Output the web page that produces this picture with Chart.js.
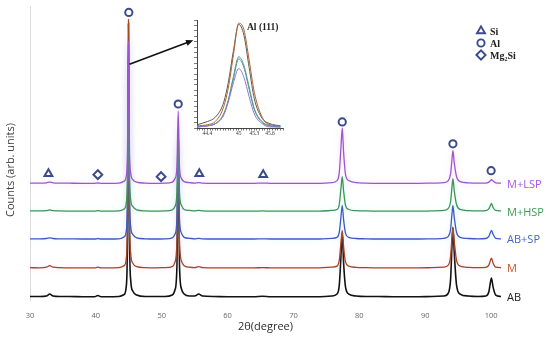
<!DOCTYPE html>
<html>
<head>
<meta charset="utf-8">
<script src="https://cdn.jsdelivr.net/npm/chart.js@4.4.1/dist/chart.umd.min.js"></script>
<style>
  html, body { margin: 0; padding: 0; background: #fff; }
  #wrap { position: relative; width: 550px; height: 341px; }
  #main { position: absolute; left: 0; top: 0; width: 550px; height: 341px; }
  #inset { position: absolute; left: 183px; top: 14px; width: 104px; height: 124px; }
</style>
</head>
<body>
<div id="wrap">
  <div id="main"><canvas id="xrdChart"></canvas></div>
  <div id="inset"><canvas id="insetChart"></canvas></div>
</div>
<script>
'use strict';

// 2θ positions (degree)
var twoTheta = [30, 31.5, 32.5, 33.0, 33.5, 34.5, 36, 38, 39.8, 40.3,
  40.8, 42, 43.5, 44.3, 44.6, 44.8, 44.95, 45.1, 45.3, 45.6,
  46.2, 47.5, 49, 50.5, 51.6, 52.0, 52.3, 52.5, 52.7, 53.0,
  53.4, 54.2, 55.0, 55.6, 56.2, 58, 60, 62, 64, 65.3,
  66.5, 68, 70, 72, 74, 75.8, 76.6, 76.95, 77.2, 77.4,
  77.6, 77.9, 78.4, 79.5, 81, 83, 85, 87, 89, 91,
  92.8, 93.5, 93.85, 94.05, 94.2, 94.4, 94.75, 95.3, 96.5, 98,
  99.2, 99.65, 99.9, 100.05, 100.3, 100.7, 101.5];

// intensities above each pattern's own baseline (arb. units)
var countsAB = [0.5, 0.5, 1, 3, 1, 0.5, 0.5, 0.3, 0.3, 1.5,
  0.3, 0.3, 0.5, 2.5, 10, 60, 275, 65, 16, 6,
  2, 0.5, 0.5, 0.5, 2, 7, 30, 147, 30, 8,
  3, 1, 1, 3, 1, 0.5, 0.3, 0.3, 0.3, 0.8,
  0.3, 0.2, 0.2, 0.3, 0.3, 1, 3, 12, 40, 65,
  35, 10, 3, 1, 0.5, 0.5, 0.3, 0.3, 0.3, 0.5,
  1, 4, 18, 50, 70, 45, 12, 3, 1, 0.5,
  1, 5, 15, 19, 10, 2, 0.5];
var countsM = [0.5, 0.3, 1, 2.5, 1, 0.5, 0.3, 0.3, 0.3, 1,
  0.3, 0.3, 0.5, 2.5, 9, 55, 250, 60, 14, 5,
  1.5, 0.5, 0.3, 0.5, 1.5, 6, 26, 128, 26, 7,
  2.5, 1, 0.5, 1.5, 0.5, 0.3, 0.3, 0.3, 0.3, 0.5,
  0.3, 0.3, 0.3, 0.3, 0.3, 1, 2, 8, 25, 38,
  22, 6, 2, 0.8, 0.5, 0.3, 0.3, 0.3, 0.3, 0.5,
  1, 3, 12, 30, 41, 27, 8, 2, 0.8, 0.5,
  0.8, 3, 8, 10, 5, 1, 0.5];
var countsABSP = [0.5, 0.5, 0.8, 1.5, 0.8, 0.5, 0.4, 0.3, 0.3, 0.8,
  0.3, 0.3, 0.5, 2.5, 8, 45, 195, 48, 12, 5,
  1.5, 0.5, 0.3, 0.5, 1.5, 5, 20, 95, 20, 6,
  2, 1, 0.5, 1, 0.5, 0.3, 0.3, 0.3, 0.3, 0.5,
  0.3, 0.3, 0.3, 0.3, 0.3, 1, 2, 7, 22, 34,
  20, 6, 2, 0.8, 0.5, 0.3, 0.3, 0.3, 0.3, 0.5,
  1, 3, 10, 25, 34, 22, 7, 2, 0.8, 0.5,
  0.8, 3, 7, 9, 5, 1, 0.5];
var countsMHSP = [0.5, 0.5, 0.8, 1.5, 0.8, 0.5, 0.4, 0.3, 0.3, 0.8,
  0.3, 0.3, 0.5, 2.5, 8, 40, 168, 42, 11, 5,
  1.5, 0.5, 0.3, 0.5, 1.5, 5, 18, 82, 18, 6,
  2, 1, 0.5, 1, 0.5, 0.3, 0.3, 0.3, 0.3, 0.5,
  0.3, 0.3, 0.3, 0.3, 0.3, 1, 2, 7, 23, 35,
  21, 6, 2, 0.8, 0.5, 0.3, 0.3, 0.3, 0.3, 0.5,
  1, 3, 10, 24, 33, 21, 7, 2, 0.8, 0.5,
  0.8, 2.5, 6, 8, 4, 1, 0.5];
var countsMLSP = [0.5, 0.5, 0.8, 1.5, 0.8, 0.5, 0.4, 0.3, 0.3, 0.6,
  0.3, 0.3, 0.5, 2.5, 7, 35, 143, 36, 10, 4,
  1.5, 0.5, 0.3, 0.5, 1.5, 5, 16, 73, 16, 5,
  2, 1, 0.5, 1, 0.5, 0.3, 0.3, 0.3, 0.3, 0.5,
  0.3, 0.3, 0.3, 0.3, 0.3, 1, 3, 11, 36, 56,
  32, 9, 3, 1, 0.5, 0.3, 0.3, 0.3, 0.3, 0.5,
  1, 3, 10, 24, 33, 21, 7, 2, 0.8, 0.5,
  0.5, 1.5, 3, 4, 2.5, 0.8, 0.5];

var seriesNames = ['AB', 'M', 'AB+SP', 'M+HSP', 'M+LSP'];
var seriesCounts = [countsAB, countsM, countsABSP, countsMHSP, countsMLSP];
var seriesOffsets = [3, 32, 61, 89, 117];

// phase markers: 2θ and height
var siPeaks = [32.8, 55.7, 65.4];
var siMarkY = [127, 127, 126];
var alPeaks = [45.0, 52.5, 77.4, 94.2, 100.0];
var alMarkY = [289, 197, 179, 157, 130];
var mg2siPeaks = [40.3, 49.9];
var mg2siMarkY = [126, 124];

var xTickLabels = [30, 40, 50, 60, 70, 80, 90, 100];

// inset: Al (111) peak
var insetTheta = [44.2, 44.4, 44.55, 44.7, 44.8, 44.9, 45.0, 45.1, 45.2, 45.3, 45.45, 45.6, 45.8];
var insetAB = [3, 6, 10, 22, 42, 72, 96, 86, 56, 27, 9, 4, 2];
var insetM = [2, 3, 6, 18, 37, 68, 97, 91, 63, 33, 10, 3, 2];
var insetABSP = [1, 2, 4, 11, 25, 46, 64, 56, 36, 17, 5, 2, 1];
var insetMHSP = [1, 2, 4, 12, 26, 48, 66, 58, 38, 18, 6, 2, 1];
var insetMLSP = [1, 2, 4, 11, 24, 42, 55, 47, 29, 13, 4, 1, 1];
var insetTickLabels = [44.4, 45, 45.3, 45.6];

var lineColors = ['#111111', '#a2461f', '#3f58c4', '#3e9352', '#9c55d0'];
var labelColors = ['#222222', '#c4562a', '#4466cc', '#3c9a55', '#a855e0'];
var glowColors = [null, 'rgba(255,150,225,0.4)', 'rgba(130,240,240,0.4)', 'rgba(130,240,240,0.4)', 'rgba(255,150,225,0.4)'];
var insetColors = ['#5a5a5a', '#b0602e', '#4a86b8', '#52a374', '#9474d4'];
var markerColor = '#3b4a8c';

function toPoints(xs, ys, offset) {
  return xs.map(function(x, i) {
    return { x: x, y: ys[i] + (offset || 0) };
  });
}

function markerData(xs, ys) {
  return xs.map(function(x, i) { return { x: x, y: ys[i] }; });
}

var glowPlugin = {
  id: 'glow',
  beforeDatasetDraw: function(chart, args) {
    var ds = chart.data.datasets[args.index];
    chart.ctx.save();
    if (ds.glow) {
      chart.ctx.shadowColor = ds.glow;
      chart.ctx.shadowBlur = 6;
    }
  },
  afterDatasetDraw: function(chart) {
    chart.ctx.restore();
  }
};

var annotationsPlugin = {
  id: 'xrdAnnotations',
  afterDraw: function(chart) {
    var ctx = chart.ctx;
    var xs = chart.scales.x;
    var ys = chart.scales.y;

    ctx.save();
    // y axis title
    ctx.save();
    ctx.translate(11, 170);
    ctx.rotate(-Math.PI / 2);
    ctx.font = '11px "Open Sans", sans-serif';
    ctx.fillStyle = '#404040';
    ctx.textAlign = 'center';
    ctx.textBaseline = 'middle';
    ctx.fillText('Counts (arb. units)', 0, 0);
    ctx.restore();

    // series names at the right end
    ctx.font = '11px "Open Sans", sans-serif';
    ctx.textBaseline = 'middle';
    ctx.textAlign = 'left';
    seriesNames.forEach(function(name, i) {
      ctx.fillStyle = labelColors[i];
      ctx.fillText(name, xs.getPixelForValue(101.5) + 6, ys.getPixelForValue(seriesOffsets[i]) + 1);
    });

    // arrow from Al(111) peak to inset
    var x0 = xs.getPixelForValue(45.1), y0 = ys.getPixelForValue(237);
    var x1 = xs.getPixelForValue(54.8), y1 = ys.getPixelForValue(261);
    var ang = Math.atan2(y1 - y0, x1 - x0);
    ctx.strokeStyle = '#111';
    ctx.fillStyle = '#111';
    ctx.lineWidth = 1.6;
    ctx.beginPath();
    ctx.moveTo(x0, y0);
    ctx.lineTo(x1 - 5 * Math.cos(ang), y1 - 5 * Math.sin(ang));
    ctx.stroke();
    ctx.beginPath();
    ctx.moveTo(x1, y1);
    ctx.lineTo(x1 - 8 * Math.cos(ang - 0.4), y1 - 8 * Math.sin(ang - 0.4));
    ctx.lineTo(x1 - 8 * Math.cos(ang + 0.4), y1 - 8 * Math.sin(ang + 0.4));
    ctx.closePath();
    ctx.fill();

    // phase key
    var key = [['triangle', 'Si'], ['circle', 'Al'], ['rectRot', 'Mg\u2082Si']];
    key.forEach(function(k, i) {
      var ky = 31 + i * 12;
      ctx.fillStyle = '#ffffff';
      ctx.strokeStyle = markerColor;
      ctx.lineWidth = 1.9;
      Chart.helpers.drawPoint(ctx, {
        pointStyle: k[0], radius: k[0] === 'circle' ? 3.6 : 4.6, rotation: 0,
        borderWidth: 1.9
      }, 481, ky);
      ctx.font = 'bold 10px "Liberation Serif", serif';
      ctx.fillStyle = '#222';
      ctx.fillText(k[1], 490, ky + 1);
    });
    ctx.restore();
  }
};

function buildMain() {
  var datasets = seriesNames.map(function(name, i) {
    return {
      type: 'line',
      label: name,
      data: toPoints(twoTheta, seriesCounts[i], seriesOffsets[i]),
      borderColor: lineColors[i],
      borderWidth: i === 0 ? 1.6 : 1.3,
      pointRadius: 0,
      cubicInterpolationMode: 'monotone',
      glow: glowColors[i],
      order: 5 - i
    };
  });

  var markerStyle = {
    type: 'scatter',
    borderColor: markerColor,
    backgroundColor: 'rgba(255,255,255,0)',
    borderWidth: 2,
    order: 0,
    clip: false
  };
  datasets.push(Object.assign({ label: 'Si', data: markerData(siPeaks, siMarkY), pointStyle: 'triangle', pointRadius: 4.5 }, markerStyle));
  datasets.push(Object.assign({ label: 'Al', data: markerData(alPeaks, alMarkY), pointStyle: 'circle', pointRadius: 3.6 }, markerStyle));
  datasets.push(Object.assign({ label: 'Mg2Si', data: markerData(mg2siPeaks, mg2siMarkY), pointStyle: 'rectRot', pointRadius: 4.4 }, markerStyle));

  var ctx = document.getElementById('xrdChart').getContext('2d');
  new Chart(ctx, {
    data: { datasets: datasets },
    options: {
      responsive: true,
      maintainAspectRatio: false,
      animation: false,
      events: [],
      layout: { padding: { left: 4, right: 49, top: 5, bottom: 7 } },
      plugins: { legend: { display: false }, tooltip: { enabled: false } },
      scales: {
        x: {
          type: 'linear',
          min: 30,
          max: 101.5,
          grid: { display: false },
          border: { display: false },
          afterBuildTicks: function(scale) {
            scale.ticks = xTickLabels.map(function(v) { return { value: v }; });
          },
          afterFit: function(scale) { scale.height = 34; },
          ticks: {
            font: { size: 7.5, family: '"Open Sans", sans-serif' },
            color: '#666',
            padding: 3,
            maxRotation: 0
          },
          title: {
            display: true,
            text: '2\u03b8(degree)',
            font: { size: 11, family: '"Open Sans", sans-serif' },
            color: '#2a2a2a',
            padding: { top: 2, bottom: 1 }
          }
        },
        y: {
          type: 'linear',
          min: 0,
          max: 295,
          grid: { display: false },
          border: { display: true, color: '#dcdcdc', width: 1 },
          ticks: { display: false },
          afterFit: function(scale) { scale.width = 26; }
        }
      }
    },
    plugins: [glowPlugin, annotationsPlugin]
  });
}

var insetTitlePlugin = {
  id: 'insetTitle',
  afterDraw: function(chart) {
    var ctx = chart.ctx;
    var area = chart.chartArea;
    ctx.save();
    ctx.font = 'bold 9.5px "Liberation Serif", serif';
    ctx.fillStyle = '#222';
    ctx.textBaseline = 'middle';
    ctx.fillText('Al (111)', area.left + 50, area.top + 8);
    ctx.restore();
  }
};

function buildInset() {
  var insetSeries = [insetAB, insetM, insetABSP, insetMHSP, insetMLSP];
  var datasets = insetSeries.map(function(vals, i) {
    return {
      label: seriesNames[i],
      data: toPoints(insetTheta, vals, 0),
      borderColor: insetColors[i],
      borderWidth: 1,
      pointRadius: 0,
      cubicInterpolationMode: 'monotone',
      order: 5 - i
    };
  });

  var ctx = document.getElementById('insetChart').getContext('2d');
  new Chart(ctx, {
    type: 'line',
    data: { datasets: datasets },
    options: {
      responsive: true,
      maintainAspectRatio: false,
      animation: false,
      events: [],
      layout: { padding: { left: 0, right: 4, top: 6, bottom: 0 } },
      plugins: { legend: { display: false }, tooltip: { enabled: false } },
      scales: {
        x: {
          type: 'linear',
          min: 44.2,
          max: 45.85,
          grid: { display: true, drawOnChartArea: false, tickLength: 2.5, color: '#444', lineWidth: 0.7 },
          border: { display: true, color: '#444', width: 1 },
          afterBuildTicks: function(scale) {
            var t = [];
            for (var v = 44.2; v <= 45.851; v += 0.05) { t.push({ value: Math.round(v * 100) / 100 }); }
            scale.ticks = t;
          },
          afterFit: function(scale) { scale.height = 10; },
          ticks: {
            autoSkip: false,
            maxRotation: 0,
            padding: 0,
            font: { size: 5.5, family: '"Liberation Serif", serif' },
            color: '#333',
            callback: function(value) {
              for (var i = 0; i < insetTickLabels.length; i++) {
                if (Math.abs(value - insetTickLabels[i]) < 0.001) { return String(insetTickLabels[i]); }
              }
              return '';
            }
          }
        },
        y: {
          type: 'linear',
          min: 0,
          max: 100,
          grid: { display: true, drawOnChartArea: false, tickLength: 3, color: '#444', lineWidth: 0.7 },
          border: { display: true, color: '#444', width: 1 },
          afterFit: function(scale) { scale.width = 14; },
          ticks: {
            stepSize: 5,
            autoSkip: false,
            padding: 0,
            font: { size: 4 },
            callback: function() { return ''; }
          }
        }
      }
    },
    plugins: [insetTitlePlugin]
  });
}

buildMain();
buildInset();
</script>
</body>
</html>
